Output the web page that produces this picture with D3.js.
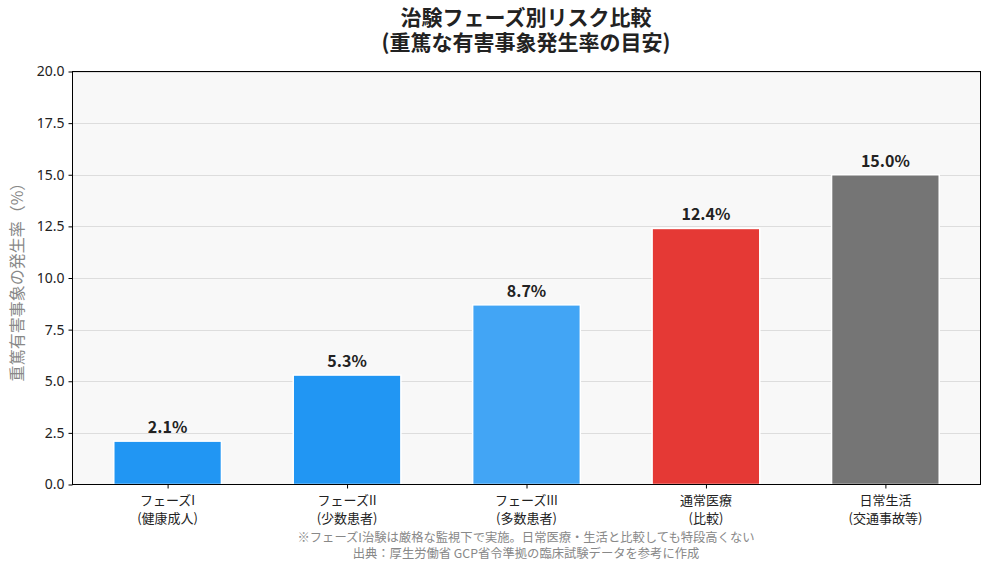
<!DOCTYPE html>
<html>
<head>
<meta charset="utf-8">
<script src="https://cdn.jsdelivr.net/npm/d3@7"></script>
<style>
  body { margin: 0; background: #fff; }
  svg { font-family: "Noto Sans CJK JP", "Noto Sans", sans-serif; }
</style>
</head>
<body>
<svg id="mainsvg" width="989" height="571"></svg>
<script>
var categories = ['フェーズI\n(健康成人)', 'フェーズII\n(少数患者)', 'フェーズIII\n(多数患者)', '通常医療\n(比較)', '日常生活\n(交通事故等)'];
var values = [2.1, 5.3, 8.7, 12.4, 15.0];
var colors = ['#2196F3', '#2196F3', '#42A5F5', '#E53935', '#757575'];
var yTicks = [0, 2.5, 5, 7.5, 10, 12.5, 15, 17.5, 20];
var titleLines = ['治験フェーズ別リスク比較', '(重篤な有害事象発生率の目安)'];
var yLabel = '重篤有害事象の発生率（%）';
var notes = ['※フェーズI治験は厳格な監視下で実施。日常医療・生活と比較しても特段高くない', '出典：厚生労働省 GCP省令準拠の臨床試験データを参考に作成'];

(function() {
var svg = d3.select('#mainsvg');
var pl = 72.5, pr = 980.5, pt = 71.5, pb = 484.5;

var x = d3.scaleLinear().domain([-0.53, 4.53]).range([pl, pr]);
var y = d3.scaleLinear().domain([0, 20]).range([pb, pt]);
var barW = x(0.6) - x(0);

// plot background
svg.append('rect')
	.attr('x', pl).attr('y', pt)
	.attr('width', pr - pl).attr('height', pb - pt)
	.attr('fill', '#f8f8f8');

// grid
svg.append('g').selectAll('line')
	.data(yTicks.slice(1))
	.enter()
	.append('line')
	.attr('x1', pl).attr('x2', pr)
	.attr('y1', function(d) {return Math.round(y(d)) + 0.5;})
	.attr('y2', function(d) {return Math.round(y(d)) + 0.5;})
	.attr('stroke', '#dddddd')
	.attr('stroke-width', 1);

// bars
svg.append('g').selectAll('rect')
	.data(values)
	.enter()
	.append('rect')
	.attr('x', function(d, i) {return x(i) - barW / 2;})
	.attr('y', function(d) {return y(d);})
	.attr('width', barW)
	.attr('height', function(d) {return y(0) - y(d);})
	.attr('fill', function(d, i) {return colors[i];})
	.attr('stroke', '#fff')
	.attr('stroke-width', 1.5);

// value labels
svg.append('g').selectAll('text')
	.data(values)
	.enter()
	.append('text')
	.attr('x', function(d, i) {return x(i);})
	.attr('y', function(d) {return y(d) - 8;})
	.attr('text-anchor', 'middle')
	.attr('font-size', 16)
	.attr('font-weight', 'bold')
	.attr('fill', '#222')
	.text(function(d) {return d.toFixed(1) + '%';});

// frame
svg.append('rect')
	.attr('x', pl).attr('y', pt)
	.attr('width', pr - pl).attr('height', pb - pt)
	.attr('fill', 'none')
	.attr('stroke', '#000')
	.attr('stroke-width', 1);

// y axis
var yAxis = svg.append('g')
	.attr('transform', 'translate(' + pl + ',0)')
	.call(d3.axisLeft(y).tickValues(yTicks).tickFormat(d3.format('.1f')).tickSize(4).tickPadding(4));
yAxis.select('.domain').remove();
yAxis.selectAll('line').attr('stroke', '#000');
yAxis.selectAll('text').attr('font-size', 14).attr('fill', '#222')
	.style('font-family', '"Noto Sans", sans-serif');

// x axis
var xAxis = svg.append('g')
	.attr('transform', 'translate(0,' + pb + ')')
	.call(d3.axisBottom(x).tickValues(d3.range(categories.length)).tickSize(4).tickFormat(''));
xAxis.select('.domain').remove();
xAxis.selectAll('line').attr('stroke', '#000');

var xl = svg.append('g').selectAll('text')
	.data(categories)
	.enter()
	.append('text')
	.attr('x', function(d, i) {return x(i);})
	.attr('y', 505)
	.attr('text-anchor', 'middle')
	.attr('font-size', 13)
	.attr('fill', '#222');
xl.selectAll('tspan')
	.data(function(d) {return d.split('\n');})
	.enter()
	.append('tspan')
	.attr('x', function() {return d3.select(this.parentNode).attr('x');})
	.attr('dy', function(d, i) {return i === 0 ? 0 : 17.5;})
	.text(function(d) {return d;});

// y label
svg.append('text')
	.attr('transform', 'translate(23,' + ((pt + pb) / 2) + ') rotate(-90)')
	.attr('text-anchor', 'middle')
	.attr('font-size', 16)
	.attr('fill', '#888')
	.text(yLabel);

// title
svg.append('g').selectAll('text')
	.data(titleLines)
	.enter()
	.append('text')
	.attr('x', 526)
	.attr('y', function(d, i) {return 25 + i * 25;})
	.attr('text-anchor', 'middle')
	.attr('font-size', 21)
	.attr('font-weight', 'bold')
	.attr('fill', '#222')
	.text(function(d) {return d;});

// notes
svg.append('g').selectAll('text')
	.data(notes)
	.enter()
	.append('text')
	.attr('x', 526)
	.attr('y', function(d, i) {return 542 + i * 15.5;})
	.attr('text-anchor', 'middle')
	.attr('font-size', 12.3)
	.attr('fill', '#888')
	.text(function(d) {return d;});
})();
</script>
</body>
</html>
